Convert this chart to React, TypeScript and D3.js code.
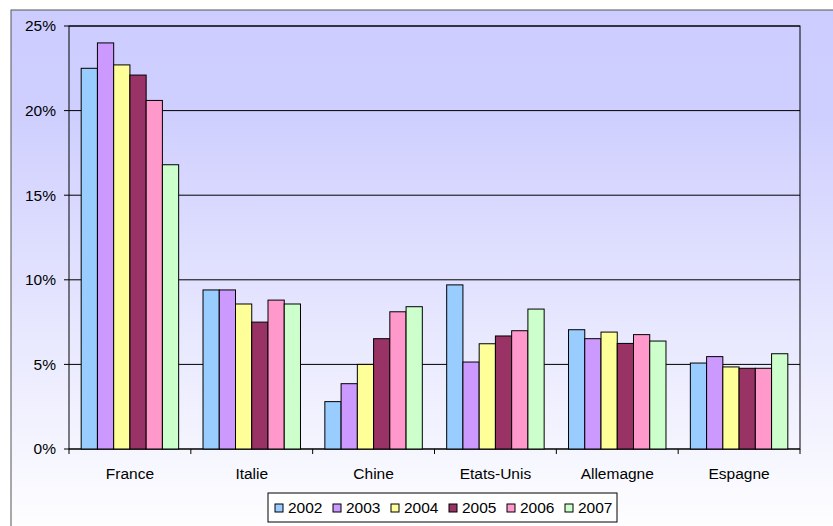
import React from "react";
import * as d3 from "d3";

const categories = ["France", "Italie", "Chine", "Etats-Unis", "Allemagne", "Espagne"];
const years = ["2002", "2003", "2004", "2005", "2006", "2007"];
const s2002 = [22.5, 9.4, 2.8, 9.7, 7.05, 5.08];
const s2003 = [24.0, 9.4, 3.86, 5.14, 6.52, 5.46];
const s2004 = [22.7, 8.57, 5.0, 6.22, 6.91, 4.85];
const s2005 = [22.1, 7.5, 6.52, 6.68, 6.24, 4.77];
const s2006 = [20.6, 8.8, 8.11, 6.99, 6.76, 4.77];
const s2007 = [16.8, 8.57, 8.41, 8.27, 6.38, 5.63];
const seriesValues = [s2002, s2003, s2004, s2005, s2006, s2007];
const colors = ["#99CCFF", "#CC99FF", "#FFFF99", "#993366", "#FF99CC", "#CCFFCC"];
const yTicks = [0, 5, 10, 15, 20, 25];

export default function App() {
  const W = 833, H = 526;
  const left = 69, right = 800, top = 26, bottom = 449;
  const x0 = d3.scaleBand<string>().domain(categories).range([left, right]).paddingInner(0).paddingOuter(0);
  const catW = x0.bandwidth();
  const barW = catW / 7.5;
  const y = d3.scaleLinear().domain([0, 25]).range([bottom, top]);
  const font = "'Liberation Sans', Arial, sans-serif";
  const fs = 15.5;
  const legX = 268, legY = 493, legW = 349, legH = 29;
  const itemW = 58;
  return (
    <svg width={W} height={H} style={{ position: "absolute", left: 0, top: 0 }} fontFamily={font}>
      <defs>
        <linearGradient id="bg" x1="0" y1="0" x2="0" y2="1">
          <stop offset="0" stopColor="#CCCCFF" />
          <stop offset="0.2" stopColor="#CFCFFF" />
          <stop offset="1" stopColor="#FFFFFF" />
        </linearGradient>
      </defs>
      <rect x={0} y={0} width={W} height={H} fill="#fff" />
      <rect x={11} y={10} width={W} height={H} fill="url(#bg)" stroke="#555" strokeWidth={1} />
      {yTicks.map((t) => (
        <g key={t}>
          <line x1={left} x2={right} y1={y(t)} y2={y(t)} stroke="#000" strokeWidth={1} />
          <line x1={left - 5} x2={left} y1={y(t)} y2={y(t)} stroke="#000" strokeWidth={1} />
          <text x={56} y={y(t)} dy="0.35em" textAnchor="end" fontSize={fs} fill="#000">{t}%</text>
        </g>
      ))}
      <rect x={left} y={top} width={right - left} height={bottom - top} fill="none" stroke="#000" strokeWidth={1} />
      {categories.map((c, ci) => (
        <g key={c}>
          {seriesValues.map((vals, si) => {
            const bx = (x0(c) as number) + barW * 0.75 + si * barW;
            return (
              <rect key={si} x={bx} y={y(vals[ci])} width={barW} height={bottom - y(vals[ci])}
                fill={colors[si]} stroke="#000" strokeWidth={1} />
            );
          })}
          <text x={(x0(c) as number) + catW / 2} y={479} textAnchor="middle" fontSize={fs} fill="#000">{c}</text>
        </g>
      ))}
      {d3.range(categories.length + 1).map((i) => (
        <line key={i} x1={left + i * catW} x2={left + i * catW} y1={bottom} y2={bottom + 5} stroke="#000" />
      ))}
      <rect x={legX} y={legY} width={legW} height={legH} fill="#fff" stroke="#000" strokeWidth={1} />
      {years.map((yr, i) => (
        <g key={yr}>
          <rect x={legX + 7 + i * itemW} y={legY + 11} width={8} height={8} fill={colors[i]} stroke="#000" strokeWidth={1} />
          <text x={legX + 20 + i * itemW} y={legY + 15} dy="0.35em" fontSize={fs} fill="#000">{yr}</text>
        </g>
      ))}
    </svg>
  );
}
